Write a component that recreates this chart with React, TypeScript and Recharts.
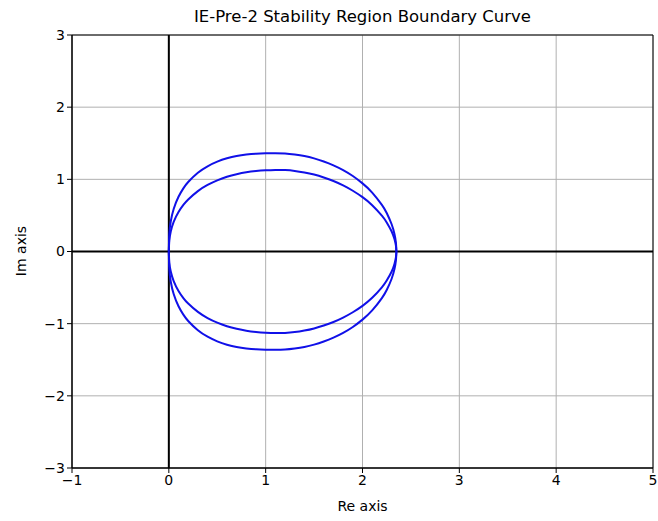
import {
  LineChart,
  Line,
  XAxis,
  YAxis,
  CartesianGrid,
  ReferenceLine,
  ReferenceArea,
} from "recharts";

// each loop is split into an upper and a lower half so x stays monotone
const outerRe = [0, 0.005, 0.02, 0.05, 0.1, 0.15, 0.2, 0.3, 0.4, 0.5, 0.6, 0.7, 0.8, 0.9, 1.0, 1.1, 1.2, 1.3, 1.4, 1.5, 1.6, 1.7, 1.8, 1.9, 2.0, 2.1, 2.2, 2.25, 2.3, 2.33, 2.345, 2.35];
const outerImUp = [0, 0.247, 0.419, 0.59, 0.759, 0.875, 0.963, 1.091, 1.181, 1.245, 1.291, 1.323, 1.343, 1.355, 1.36, 1.361, 1.357, 1.343, 1.322, 1.29, 1.247, 1.194, 1.128, 1.046, 0.944, 0.817, 0.646, 0.534, 0.381, 0.243, 0.122, 0];
const outerImDown = [0, -0.247, -0.419, -0.59, -0.759, -0.875, -0.963, -1.091, -1.181, -1.245, -1.291, -1.323, -1.343, -1.355, -1.36, -1.361, -1.357, -1.343, -1.322, -1.29, -1.247, -1.194, -1.128, -1.046, -0.944, -0.817, -0.646, -0.534, -0.381, -0.243, -0.122, 0];

const innerRe = [0, 0.005, 0.02, 0.05, 0.1, 0.15, 0.2, 0.3, 0.4, 0.5, 0.6, 0.7, 0.8, 0.9, 1.0, 1.1, 1.15, 1.2, 1.3, 1.4, 1.5, 1.6, 1.7, 1.8, 1.9, 2.0, 2.1, 2.2, 2.25, 2.3, 2.33, 2.345, 2.35];
const innerImUp = [0, 0.152, 0.277, 0.41, 0.547, 0.645, 0.721, 0.837, 0.922, 0.986, 1.035, 1.071, 1.098, 1.115, 1.125, 1.13, 1.13, 1.128, 1.117, 1.096, 1.066, 1.026, 0.977, 0.916, 0.842, 0.753, 0.642, 0.497, 0.403, 0.28, 0.172, 0.081, 0];
const innerImDown = [0, -0.152, -0.277, -0.41, -0.547, -0.645, -0.721, -0.837, -0.922, -0.986, -1.035, -1.071, -1.098, -1.115, -1.125, -1.13, -1.13, -1.128, -1.117, -1.096, -1.066, -1.026, -0.977, -0.916, -0.842, -0.753, -0.642, -0.497, -0.403, -0.28, -0.172, -0.081, 0];

const xTicks = [-1, 0, 1, 2, 3, 4, 5];
const yTicks = [-3, -2, -1, 0, 1, 2, 3];

const toPts = (re: number[], im: number[]) => re.map((r, i) => ({ re: r, im: im[i] }));

const halves = [
  toPts(outerRe, outerImUp),
  toPts(outerRe, outerImDown),
  toPts(innerRe, innerImUp),
  toPts(innerRe, innerImDown),
];

const font = "'DejaVu Sans', sans-serif";
const fmt = (v: number) => (v < 0 ? `\u2212${-v}` : `${v}`);

const App = () => {
  return (
    <div
      style={{
        position: "absolute",
        left: 0,
        top: 0,
        width: 658,
        height: 521,
        background: "#fff",
        fontFamily: font,
      }}
    >
      <div
        style={{
          position: "absolute",
          left: 72,
          width: 581,
          top: 7,
          textAlign: "center",
          fontSize: 16.5,
          color: "#000",
        }}
      >
        IE-Pre-2 Stability Region Boundary Curve
      </div>
      <div
        style={{
          position: "absolute",
          left: 72,
          width: 581,
          top: 498,
          textAlign: "center",
          fontSize: 14,
          color: "#000",
        }}
      >
        Re axis
      </div>
      <div
        style={{
          position: "absolute",
          left: 21,
          top: 251,
          transform: "translate(-50%, -50%) rotate(-90deg)",
          fontSize: 14,
          color: "#000",
          whiteSpace: "nowrap",
        }}
      >
        Im axis
      </div>
      <LineChart
        width={658}
        height={521}
        margin={{ top: 35, right: 5, bottom: 23, left: 32 }}
        style={{ fontFamily: font }}
      >
        <CartesianGrid stroke="#b0b0b0" strokeWidth={1} />
        <XAxis
          type="number"
          dataKey="re"
          domain={[-1, 5]}
          ticks={xTicks}
          allowDataOverflow
          height={30}
          tickFormatter={fmt}
          tickSize={5}
          tickLine={{ stroke: "#000" }}
          axisLine={{ stroke: "#000" }}
          tick={{ fill: "#000", fontSize: 14 }}
        />
        <YAxis
          type="number"
          dataKey="im"
          domain={[-3, 3]}
          ticks={yTicks}
          allowDataOverflow
          width={40}
          tickFormatter={fmt}
          tickSize={5}
          tickLine={{ stroke: "#000" }}
          axisLine={{ stroke: "#000" }}
          tick={{ fill: "#000", fontSize: 14 }}
        />
        <ReferenceArea x1={-1} x2={5} y1={-3} y2={3} fill="none" stroke="#000" strokeWidth={1} fillOpacity={0} />
        <ReferenceLine x={0} stroke="#000" strokeWidth={2} />
        <ReferenceLine y={0} stroke="#000" strokeWidth={2} />
        {halves.map((pts, i) => (
          <Line
            key={i}
            data={pts}
            dataKey="im"
            type="natural"
            stroke="#1010e8"
            strokeWidth={2}
            dot={false}
            activeDot={false}
            isAnimationActive={false}
          />
        ))}
      </LineChart>
    </div>
  );
};

export default App;
